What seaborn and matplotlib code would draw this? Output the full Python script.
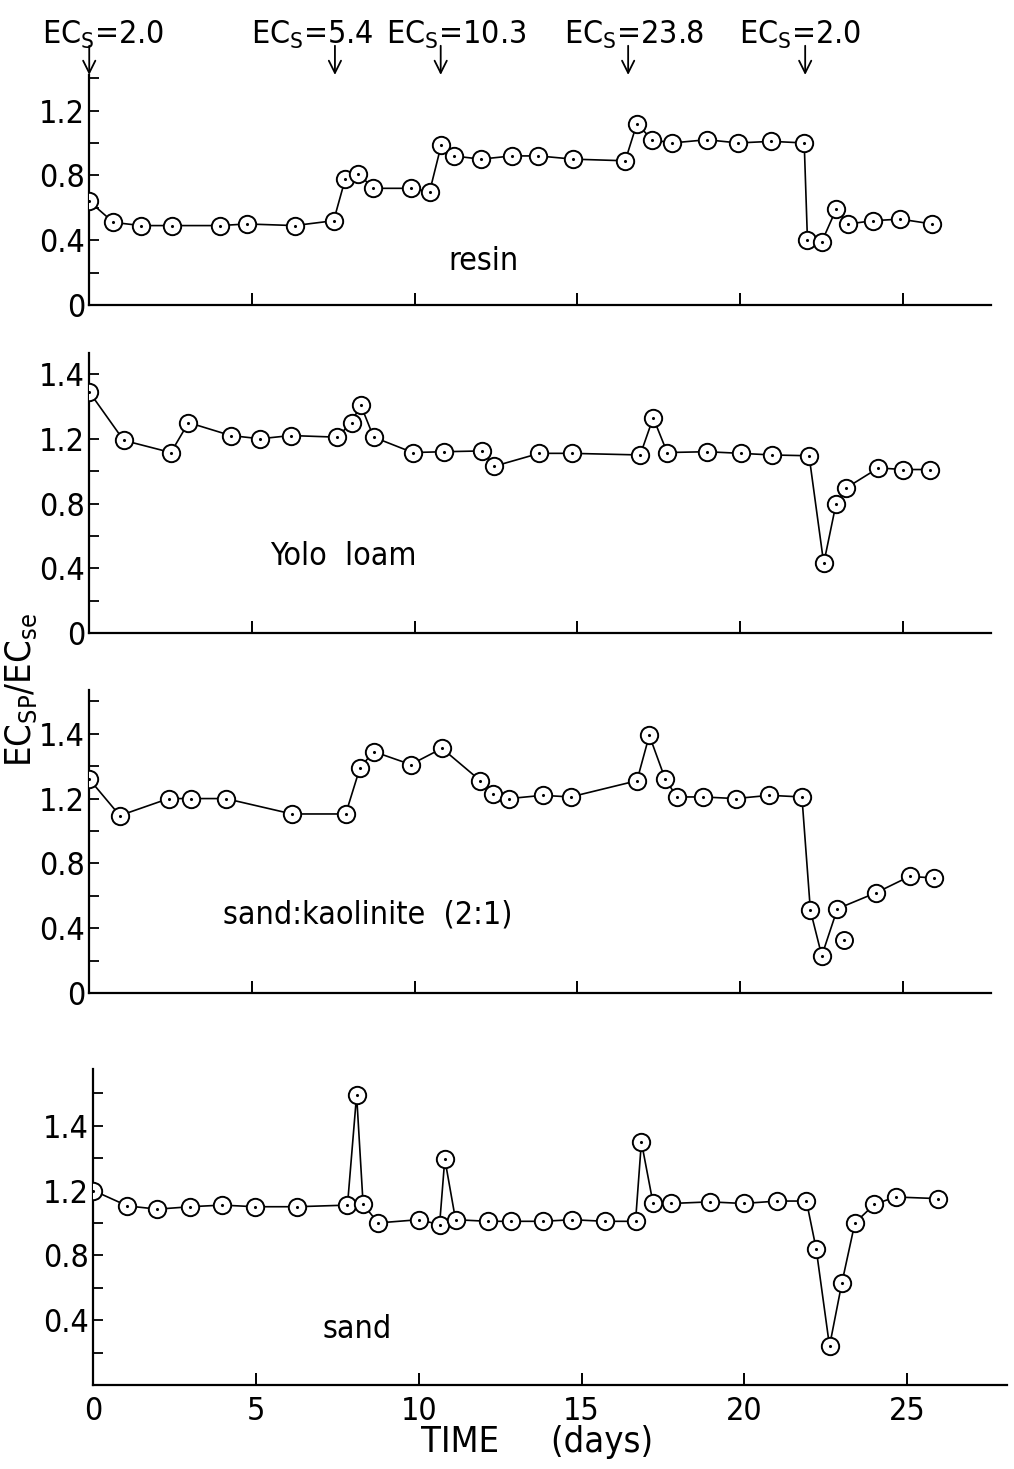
import numpy as np
import matplotlib
matplotlib.use("Agg")
import matplotlib.pyplot as plt
import seaborn as sns
from matplotlib.ticker import FixedLocator, NullFormatter

# ---- data: EC_sp / EC_se ratio versus time (days) ----
resin_days = [0.0, 0.74, 1.59, 2.55, 4.02, 4.84, 6.31, 7.51, 7.87, 8.27, 8.73, 9.88,
              10.46, 10.82, 11.2, 12.03, 12.99, 13.8, 14.88, 16.47, 16.83, 17.29, 17.91,
              18.98, 19.94, 20.96, 21.97, 22.07, 22.51, 22.95, 23.33, 24.08, 24.92, 25.9]
resin_ratio = [0.64, 0.51, 0.49, 0.49, 0.49, 0.50, 0.49, 0.52, 0.78, 0.81, 0.72, 0.72,
               0.70, 0.99, 0.92, 0.90, 0.92, 0.92, 0.90, 0.89, 1.12, 1.02, 1.00,
               1.02, 1.00, 1.01, 1.00, 0.40, 0.39, 0.59, 0.50, 0.52, 0.53, 0.50]

yolo_days = [0.0, 1.06, 2.51, 3.05, 4.35, 5.25, 6.19, 7.62, 8.06, 8.34, 8.74, 9.94,
             10.9, 12.08, 12.44, 13.83, 14.83, 16.93, 17.33, 17.76, 18.98, 20.02,
             20.98, 22.12, 22.57, 22.95, 23.25, 24.25, 25.0, 25.85]
yolo_ratio = [1.49, 1.19, 1.115, 1.30, 1.22, 1.20, 1.22, 1.21, 1.30, 1.41, 1.21, 1.115,
              1.12, 1.125, 1.03, 1.11, 1.11, 1.10, 1.33, 1.115, 1.12, 1.11,
              1.10, 1.095, 0.43, 0.80, 0.895, 1.02, 1.01, 1.01]

kaol_days = [0.0, 0.94, 2.44, 3.13, 4.19, 6.23, 7.88, 8.32, 8.74, 9.88, 10.84, 12.02,
             12.42, 12.91, 13.93, 14.79, 16.83, 17.21, 17.7, 18.06, 18.86, 19.86,
             20.9, 21.9, 22.16, 22.51, 22.99, 24.19, 25.21, 25.95]
kaol_ratio = [1.32, 1.095, 1.20, 1.20, 1.20, 1.105, 1.105, 1.39, 1.49, 1.41, 1.51, 1.31,
              1.23, 1.20, 1.22, 1.21, 1.31, 1.59, 1.32, 1.21, 1.21, 1.20,
              1.22, 1.21, 0.51, 0.23, 0.52, 0.62, 0.72, 0.71]
kaol_extra_days = [23.19]
kaol_extra_ratio = [0.33]

sand_days = [0.0, 1.05, 1.97, 2.98, 3.96, 4.97, 6.26, 7.81, 8.09, 8.29, 8.75, 10.0,
             10.64, 10.8, 11.13, 12.13, 12.82, 13.82, 14.71, 15.71, 16.66, 16.84,
             17.2, 17.75, 18.95, 19.98, 21.01, 21.91, 22.21, 22.62, 23.0, 23.4,
             24.0, 24.65, 25.96]
sand_ratio = [1.20, 1.105, 1.085, 1.10, 1.11, 1.10, 1.10, 1.11, 1.79, 1.115, 1.00, 1.02,
              0.99, 1.395, 1.02, 1.01, 1.01, 1.01, 1.02, 1.01, 1.01, 1.50,
              1.12, 1.12, 1.13, 1.12, 1.135, 1.135, 0.84, 0.24, 0.63, 1.00,
              1.115, 1.16, 1.15]

# solution changes (EC of the applied solution) and the day they started
ecs_values = ["2.0", "5.4", "10.3", "23.8", "2.0"]
ecs_days = [0.0, 7.55, 10.8, 16.56, 22.0]
ecs_label_centres = [0.43, 6.85, 11.26, 16.75, 21.84]

panel_names = ["resin", "Yolo  loam", "sand:kaolinite  (2:1)", "sand"]
x_ticks = [0, 5, 10, 15, 20, 25]

# ---- style ----
sns.set_style("ticks")
plt.rcParams['font.family'] = ['DejaVu Sans']
plt.rcParams['font.stretch'] = 'condensed'
plt.rcParams['mathtext.fontset'] = 'custom'
plt.rcParams['mathtext.rm'] = 'DejaVu Sans:stretch=condensed'
plt.rcParams['mathtext.it'] = 'DejaVu Sans:stretch=condensed'
plt.rcParams['mathtext.default'] = 'rm'
plt.rcParams['text.color'] = 'black'
plt.rcParams['xtick.color'] = 'black'
plt.rcParams['ytick.color'] = 'black'

fig = plt.figure(figsize=(10.14, 14.69), dpi=100)

# axes rectangles in figure fraction: left, bottom, width, height
left, width = 0.088, 0.889
rects = [(left, 0.7924, width, 0.1566),
         (left, 0.5691, width, 0.1906),
         (left, 0.3240, width, 0.2063),
         (left + 0.004, 0.0572, width + 0.012, 0.2151)]
xmax = [27.7, 27.7, 27.7, 28.07]
ylims = [1.42, 1.73, 1.87, 1.95]
major_ticks = [[0, 0.4, 0.8, 1.2],
               [0, 0.4, 0.8, 1.2, 1.6],
               [0, 0.4, 0.8, 1.2, 1.6],
               [0, 0.4, 0.8, 1.2, 1.6]]
major_labels = [["0", "0.4", "0.8", "1.2"],
                ["0", "0.4", "0.8", "1.2", "1.4"],
                ["0", "0.4", "0.8", "1.2", "1.4"],
                ["", "0.4", "0.8", "1.2", "1.4"]]
minor_ticks = [[0.2, 0.6, 1.0, 1.4],
               [0.2, 0.6, 1.0],
               [0.2, 0.6, 1.0, 1.4, 1.8],
               [0.2, 0.6, 1.0, 1.4, 1.8]]
label_pos = [(12.1, 0.27), (7.8, 0.47), (8.55, 0.48), (8.1, 0.34)]

series = [(resin_days, resin_ratio), (yolo_days, yolo_ratio),
          (kaol_days, kaol_ratio), (sand_days, sand_ratio)]

axes = []
for i, rect in enumerate(rects):
    ax = fig.add_axes(rect)
    axes.append(ax)
    d, r = series[i]
    sns.lineplot(x=d, y=r, ax=ax, sort=False, estimator=None, color="black",
                 linewidth=1.2, marker="o", markersize=12.5,
                 markerfacecolor="white", markeredgecolor="black",
                 markeredgewidth=1.4, zorder=3)
    sns.scatterplot(x=d, y=r, ax=ax, s=5, color="black", linewidth=0, zorder=4)
    if i == 2:
        sns.scatterplot(x=kaol_extra_days, y=kaol_extra_ratio, ax=ax, s=150,
                        facecolor="white", edgecolor="black", linewidth=1.4, zorder=3)
        sns.scatterplot(x=kaol_extra_days, y=kaol_extra_ratio, ax=ax, s=5,
                        color="black", linewidth=0, zorder=4)

    ax.set_xlim(0, xmax[i])
    ax.set_ylim(0, ylims[i])
    ax.set_xlabel("")
    ax.set_ylabel("")
    sns.despine(ax=ax)
    for side in ("left", "bottom"):
        ax.spines[side].set_linewidth(1.6)
        ax.spines[side].set_color("black")

    ax.set_xticks(x_ticks)
    ax.yaxis.set_major_locator(FixedLocator(major_ticks[i]))
    ax.set_yticklabels(major_labels[i])
    ax.yaxis.set_minor_locator(FixedLocator(minor_ticks[i]))
    ax.yaxis.set_minor_formatter(NullFormatter())
    ax.tick_params(axis="x", direction="in", length=9, width=1.4, colors="black",
                   labelsize=23, pad=8)
    ax.tick_params(axis="y", which="both", direction="in", length=7, width=1.3,
                   colors="black", labelsize=23, pad=3)
    if i < 3:
        ax.tick_params(axis="x", labelbottom=False)

    ax.text(label_pos[i][0], label_pos[i][1], panel_names[i], ha="center",
            va="center", fontsize=23)

# solution EC markers above the top panel
top = axes[0]
for val, day, cx in zip(ecs_values, ecs_days, ecs_label_centres):
    top.annotate("", xy=(day, 1.42), xytext=(day, 1.60),
                 arrowprops=dict(arrowstyle="->", color="black", lw=1.3,
                                 mutation_scale=22, shrinkA=0, shrinkB=0),
                 annotation_clip=False)
    top.text(cx, 1.615, r"EC$_\mathrm{S}$=" + val, ha="center", va="baseline",
             fontsize=23, clip_on=False)

fig.text(537 / 1014, 1 - 1442 / 1469, "TIME     (days)", ha="center", va="center",
         fontsize=26)
fig.text(21 / 1014, 1 - 690 / 1469, r"EC$_\mathrm{SP}$/EC$_\mathrm{se}$",
         ha="center", va="center", rotation=90, fontsize=26)

fig.savefig("out.png", dpi=100, facecolor="white")
